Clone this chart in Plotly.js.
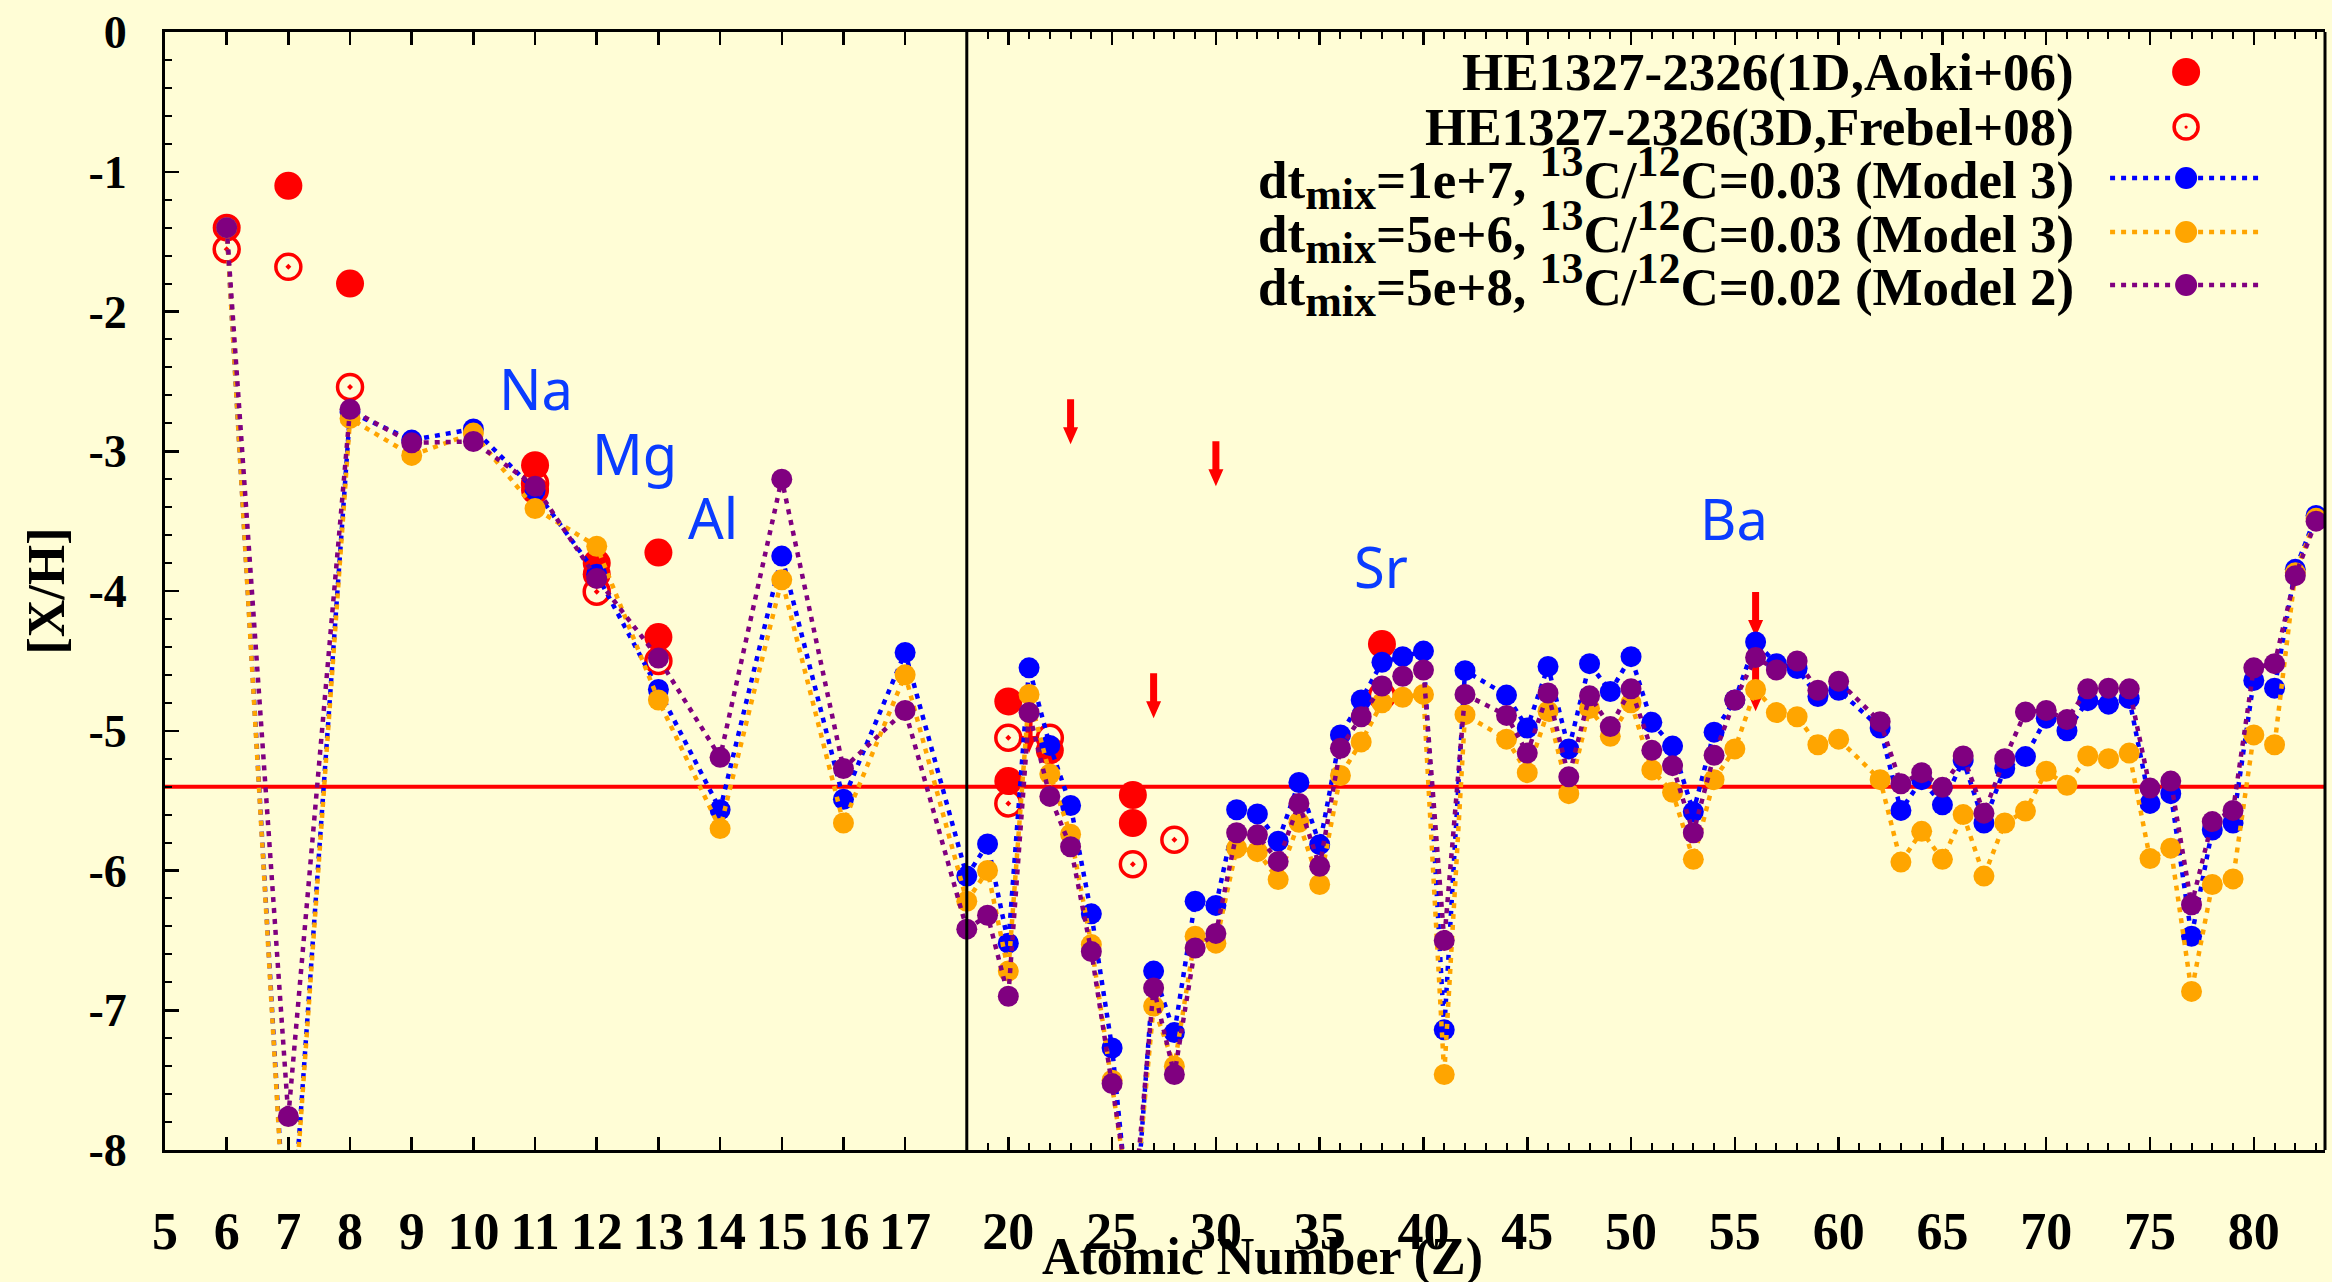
<!DOCTYPE html>
<html>
<head>
<meta charset="utf-8">
<script src="https://cdn.plot.ly/plotly-3.0.1.min.js"></script>
<style>
  html, body { margin: 0; padding: 0; background: #FFFDD6; }
  #chart { width: 2332px; height: 1282px; }
</style>
</head>
<body>
<div id="chart"></div>
<script>
// Atomic numbers of the model abundance patterns (Tc and Pm have no entries)
const elementZ = [6, 7, 8, 9, 10, 11, 12, 13, 14, 15, 16, 17, 18, 19, 20, 21, 22, 23, 24, 25,
  26, 27, 28, 29, 30, 31, 32, 33, 34, 35, 36, 37, 38, 39, 40, 41, 42, 44, 45, 46,
  47, 48, 49, 50, 51, 52, 53, 54, 55, 56, 57, 58, 59, 60, 62, 63, 64, 65, 66, 67,
  68, 69, 70, 71, 72, 73, 74, 75, 76, 77, 78, 79, 80, 81, 82, 83];

// [X/H], dt_mix = 1e+7, 13C/12C = 0.03 (Model 3)
const modelDt1e7 = [-1.40, -9.00, -2.72, -2.92, -2.84, -3.28, -3.88, -4.705, -5.565, -3.75, -5.49, -4.44, -6.04, -5.81, -6.52, -4.55, -5.105, -5.535, -6.31, -7.27,
  -8.75, -6.72, -7.16, -6.22, -6.25, -5.565, -5.595, -5.79, -5.37, -5.815, -5.03, -4.78, -4.51, -4.47, -4.43, -7.14, -4.57, -4.745, -4.98, -4.54,
  -5.13, -4.52, -4.72, -4.47, -4.94, -5.11, -5.58, -5.01, -4.78, -4.365, -4.52, -4.555, -4.755, -4.71, -4.98, -5.57, -5.35, -5.53, -5.21, -5.66,
  -5.27, -5.185, -4.91, -5.00, -4.785, -4.81, -4.77, -5.52, -5.45, -6.47, -5.71, -5.66, -4.64, -4.695, -3.845, -3.46];

// [X/H], dt_mix = 5e+6, 13C/12C = 0.03 (Model 3)
const modelDt5e6 = [-1.40, -9.05, -2.765, -3.03, -2.87, -3.41, -3.68, -4.78, -5.70, -3.92, -5.66, -4.60, -6.22, -6.00, -6.72, -4.74, -5.31, -5.74, -6.53, -7.50,
  -8.55, -6.97, -7.40, -6.47, -6.52, -5.84, -5.865, -6.065, -5.655, -6.10, -5.32, -5.08, -4.80, -4.76, -4.74, -7.46, -4.885, -5.06, -5.30, -4.86,
  -5.45, -4.84, -5.04, -4.80, -5.28, -5.44, -5.92, -5.35, -5.13, -4.705, -4.87, -4.90, -5.10, -5.06, -5.35, -5.94, -5.72, -5.92, -5.60, -6.04,
  -5.66, -5.575, -5.29, -5.39, -5.18, -5.20, -5.16, -5.915, -5.84, -6.865, -6.10, -6.06, -5.03, -5.10, -3.87, -3.48];

// [X/H], dt_mix = 5e+8, 13C/12C = 0.02 (Model 2)
const modelDt5e8 = [-1.40, -7.76, -2.70, -2.94, -2.93, -3.25, -3.91, -4.48, -5.19, -3.20, -5.27, -4.855, -6.42, -6.32, -6.90, -4.87, -5.47, -5.83, -6.58, -7.525,
  -8.50, -6.84, -7.46, -6.555, -6.45, -5.73, -5.745, -5.935, -5.52, -5.97, -5.125, -4.90, -4.68, -4.61, -4.565, -6.50, -4.74, -4.89, -5.16, -4.73,
  -5.33, -4.75, -4.97, -4.70, -5.14, -5.25, -5.73, -5.175, -4.78, -4.475, -4.565, -4.50, -4.71, -4.645, -4.935, -5.38, -5.30, -5.405, -5.18, -5.59,
  -5.20, -4.865, -4.855, -4.92, -4.70, -4.695, -4.70, -5.41, -5.36, -6.245, -5.65, -5.57, -4.55, -4.52, -3.89, -3.50];

// HE1327-2326 observed abundances (subgiant and dwarf solutions)
const aokiZ   = [6, 7, 8, 11, 11, 12, 12, 13, 13, 20, 20, 22, 26, 26, 38];
const aokiVal = [-1.40, -1.10, -1.80, -3.10, -3.28, -3.80, -3.88, -3.725, -4.33, -4.79, -5.36, -5.14, -5.46, -5.66, -4.38];
const frebelZ   = [6, 7, 8, 11, 12, 13, 20, 20, 22, 26, 28, 38];
const frebelVal = [-1.555, -1.68, -2.54, -3.23, -4.005, -4.50, -5.05, -5.52, -5.05, -5.955, -5.78, -4.75];

// Upper limits
const upperLimitZ   = [21, 23, 27, 30, 56, 56];
const upperLimitVal = [-5.16, -2.95, -4.91, -3.25, -4.33, -4.86];

// Horizontal reference level
const refLevel = -5.4;

// Element labels
const labelText = ['Na', 'Mg', 'Al', 'Sr', 'Ba'];
const labelZ    = [11.01, 12.62, 13.88, 37.93, 54.98];
const labelVal  = [-2.55, -3.01, -3.47, -3.82, -3.48];

// Axis ticks
const leftTickVals = [5, 6, 7, 8, 9, 10, 11, 12, 13, 14, 15, 16, 17];
const yTickVals = [0, -1, -2, -3, -4, -5, -6, -7, -8];

const SUBSUP = 'font-size:44px';
const legendLabels = [
  'HE1327-2326(1D,Aoki+06)',
  'HE1327-2326(3D,Frebel+08)',
  'dt<sub><span style="' + SUBSUP + '">mix</span></sub>=1e+7, <sup><span style="' + SUBSUP + '">13</span></sup>C/<sup><span style="' + SUBSUP + '">12</span></sup>C=0.03 (Model 3)',
  'dt<sub><span style="' + SUBSUP + '">mix</span></sub>=5e+6, <sup><span style="' + SUBSUP + '">13</span></sup>C/<sup><span style="' + SUBSUP + '">12</span></sup>C=0.03 (Model 3)',
  'dt<sub><span style="' + SUBSUP + '">mix</span></sub>=5e+8, <sup><span style="' + SUBSUP + '">13</span></sup>C/<sup><span style="' + SUBSUP + '">12</span></sup>C=0.02 (Model 2)'
];

// ---------------------------------------------------------------------------
const BG = '#FFFDD6';
const SERIF = 'Liberation Serif, Times New Roman, serif';
const BREAK_Z = 18;          // axis break: wide scale left of it, compressed scale right
const SPLIT = 0.3712;        // paper fraction where the break sits
const DOT = '5px,6px';

const modelStyles = [
  { vals: modelDt1e7, color: '#0000FF' },
  { vals: modelDt5e6, color: '#FFA500' },
  { vals: modelDt5e8, color: '#800080' }
];

function pick(zs, vals, lo, hi) {
  const x = [], y = [];
  zs.forEach((z, i) => { if (z >= lo && z <= hi) { x.push(z); y.push(vals[i]); } });
  return { x, y };
}

const sides = [
  { axis: 'x',  lo: 0,       hi: BREAK_Z },
  { axis: 'x2', lo: BREAK_Z, hi: 200 }
];

const traces = [];

sides.forEach(s => {
  const a = pick(aokiZ, aokiVal, s.lo, s.hi);
  traces.push({
    x: a.x, y: a.y, xaxis: s.axis, yaxis: 'y', type: 'scatter', mode: 'markers',
    marker: { color: '#FF0000', size: 28, line: { width: 0 } },
    showlegend: false, hoverinfo: 'x+y'
  });
  const f = pick(frebelZ, frebelVal, s.lo, s.hi);
  traces.push({
    x: f.x, y: f.y, xaxis: s.axis, yaxis: 'y', type: 'scatter', mode: 'markers',
    marker: { color: '#FF0000', size: 25, symbol: 'circle-open-dot', line: { width: 3.5, color: '#FF0000' } },
    showlegend: false, hoverinfo: 'x+y'
  });
});

modelStyles.forEach(m => {
  sides.forEach(s => {
    const d = pick(elementZ, m.vals, s.lo, s.hi);
    traces.push({
      x: d.x, y: d.y, xaxis: s.axis, yaxis: 'y', type: 'scatter', mode: 'lines+markers',
      line: { color: m.color, width: 4.5, dash: DOT },
      marker: { color: m.color, size: 21, line: { width: 0 } },
      showlegend: false, hoverinfo: 'x+y'
    });
  });
});

// ---------------------------------------------------------------------------
const annotations = [];
const shapes = [];

// element labels
labelText.forEach((t, i) => {
  annotations.push({
    text: t, x: labelZ[i], y: labelVal[i],
    xref: labelZ[i] <= BREAK_Z ? 'x' : 'x2', yref: 'y',
    showarrow: false, xanchor: 'center', yanchor: 'middle',
    font: { family: 'Noto Sans, DejaVu Sans, sans-serif', size: 56, color: '#0A3CFF' }
  });
});

// upper-limit arrows: tip anchored at the limit value, drawn beneath the model markers
const ARROW_PATH = 'M-3.5,45 L3.5,45 L3.5,17 L7.5,17 L0,0 L-7.5,17 L-3.5,17 Z';
upperLimitZ.forEach((z, i) => {
  shapes.push({
    type: 'path', layer: 'below',
    xref: z <= BREAK_Z ? 'x' : 'x2', yref: 'y',
    xsizemode: 'pixel', ysizemode: 'pixel',
    xanchor: z, yanchor: upperLimitVal[i],
    path: ARROW_PATH,
    fillcolor: '#FF0000', line: { width: 0, color: '#FF0000' }
  });
});

// axis titles
annotations.push({
  text: '[X/H]', xref: 'paper', yref: 'paper', x: -0.0553, y: 0.5,
  textangle: -90, showarrow: false, xanchor: 'center', yanchor: 'middle',
  font: { family: SERIF, size: 52, color: '#000', weight: 700 }
});
annotations.push({
  text: 'Atomic Number (Z)', xref: 'paper', yref: 'paper', x: 0.508, y: -0.0953,
  showarrow: false, xanchor: 'center', yanchor: 'middle',
  font: { family: SERIF, size: 52, color: '#000', weight: 700 }
});

// legend
const legendRows = [0.9642, 0.9150, 0.8694, 0.8211, 0.7737];
const legTextX = 0.8847, legMarkX = 0.9357, legLine0 = 0.9005, legLine1 = 0.9695;
legendLabels.forEach((t, i) => {
  annotations.push({
    text: t, xref: 'paper', yref: 'paper', x: legTextX, y: legendRows[i],
    showarrow: false, xanchor: 'right', yanchor: 'middle',
    font: { family: SERIF, size: 53, color: '#000', weight: 700 }
  });
});
function legendCircle(row, r, fill, lineColor, lineWidth) {
  return {
    type: 'circle', xref: 'paper', yref: 'paper', layer: 'above',
    xsizemode: 'pixel', ysizemode: 'pixel',
    xanchor: legMarkX, yanchor: legendRows[row],
    x0: -r, x1: r, y0: -r, y1: r,
    fillcolor: fill, line: { color: lineColor, width: lineWidth }
  };
}
shapes.push(legendCircle(0, 14, '#FF0000', '#FF0000', 0));
shapes.push(legendCircle(1, 12, 'rgba(0,0,0,0)', '#FF0000', 3.5));
shapes.push(legendCircle(1, 1.6, '#FF0000', '#FF0000', 0));
modelStyles.forEach((m, k) => {
  const row = k + 2;
  shapes.push({
    type: 'line', xref: 'paper', yref: 'paper', layer: 'above',
    x0: legLine0, x1: legLine1, y0: legendRows[row], y1: legendRows[row],
    line: { color: m.color, width: 4.5, dash: DOT }
  });
  shapes.push(legendCircle(row, 11, m.color, m.color, 0));
});

// reference level line
shapes.push({
  type: 'line', xref: 'paper', yref: 'y', x0: 0, x1: 1, y0: refLevel, y1: refLevel,
  line: { color: '#FF0000', width: 4 }, layer: 'below'
});
// axis break line (paper-referenced so it is not clipped by either subplot)
shapes.push({
  type: 'line', xref: 'paper', yref: 'paper', x0: SPLIT, x1: SPLIT, y0: 0, y1: 1,
  line: { color: '#000', width: 3 }, layer: 'above'
});
// right frame edge
shapes.push({
  type: 'line', xref: 'paper', yref: 'paper', x0: 1, x1: 1, y0: 0, y1: 1,
  line: { color: '#000', width: 3 }, layer: 'above'
});

const tickFontX = { family: SERIF, size: 52, color: '#000', weight: 700 };
const tickFontY = { family: SERIF, size: 46, color: '#000', weight: 700 };

const layout = {
  width: 2332, height: 1282,
  paper_bgcolor: BG, plot_bgcolor: BG,
  margin: { l: 164.5, r: 7, t: 32, b: 132 },
  showlegend: false,
  xaxis: {
    domain: [0, SPLIT], range: [5, BREAK_Z], anchor: 'y',
    tickmode: 'array', tickvals: leftTickVals, ticktext: leftTickVals.map(String),
    ticks: 'inside', ticklen: 13, tickwidth: 2.5, tickcolor: '#000',
    showline: true, linewidth: 3, linecolor: '#000', mirror: 'ticks',
    showgrid: false, zeroline: false, tickfont: tickFontX, ticklabelstandoff: 34
  },
  xaxis2: {
    domain: [SPLIT, 1], range: [BREAK_Z, 83.43], anchor: 'y',
    tick0: 0, dtick: 5,
    ticks: 'inside', ticklen: 13, tickwidth: 2.5, tickcolor: '#000',
    minor: { tickmode: 'linear', tick0: 0, dtick: 1, ticks: 'inside', ticklen: 7, tickwidth: 2, tickcolor: '#000' },
    showline: true, linewidth: 3, linecolor: '#000', mirror: 'ticks',
    showgrid: false, zeroline: false, tickfont: tickFontX, ticklabelstandoff: 34
  },
  yaxis: {
    domain: [0, 1], range: [-8, 0], anchor: 'x',
    tickmode: 'array', tickvals: yTickVals, ticktext: yTickVals.map(String),
    ticks: 'inside', ticklen: 14, tickwidth: 2.5, tickcolor: '#000',
    minor: { tickmode: 'linear', tick0: 0, dtick: 0.2, ticks: 'inside', ticklen: 7, tickwidth: 2, tickcolor: '#000' },
    showline: true, linewidth: 3, linecolor: '#000', mirror: false,
    showgrid: false, zeroline: false, tickfont: tickFontY, ticklabelstandoff: 26
  },
  annotations: annotations,
  shapes: shapes
};

Plotly.newPlot('chart', traces, layout, { staticPlot: true, displayModeBar: false });
</script>
</body>
</html>
